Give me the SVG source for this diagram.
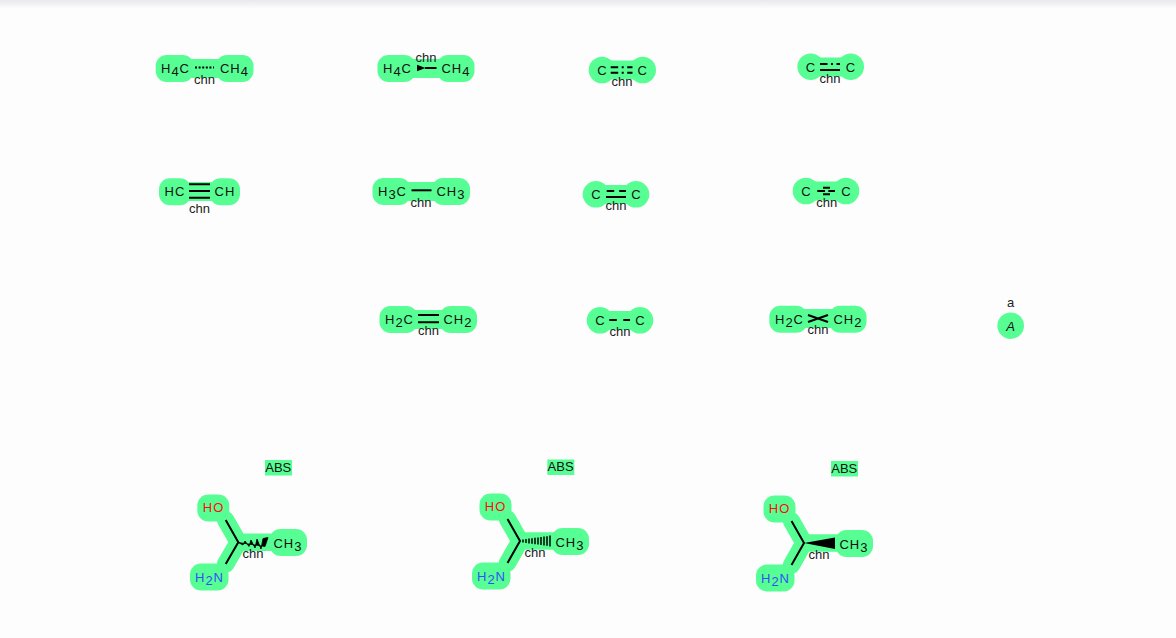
<svg xmlns="http://www.w3.org/2000/svg" width="1176" height="638" viewBox="0 0 1176 638">
<defs>
<linearGradient id="topShade" x1="0" y1="0" x2="0" y2="1"><stop offset="0" stop-color="#e8e8ee"/><stop offset="1" stop-color="#fdfdfd"/></linearGradient>
<marker id="arrowHead" markerUnits="userSpaceOnUse" markerWidth="10" markerHeight="8" refX="0.5" refY="4" orient="auto"><path d="M0,4 L8.5,0.8 L8.5,7.2 Z" fill="#000"/></marker>
</defs>
<style>
.n{fill:#57ff94}
.hl{stroke:#57ff94;fill:none;stroke-linecap:round;stroke-linejoin:round}
.b{stroke:#000;stroke-width:2;fill:none}
.t{font-family:"Liberation Sans",Arial,sans-serif;font-size:13px;letter-spacing:1px;text-anchor:middle;fill:#111}
.c{font-family:"Liberation Sans",Arial,sans-serif;font-size:13px;text-anchor:middle;fill:#222}
.s{baseline-shift:-3px}
</style>
<rect width="1176" height="638" fill="#fdfdfd"/>
<rect width="1176" height="9" fill="url(#topShade)"/>

<g id="diagram" opacity=".995">
<g id="connector-highlights">
<path class="hl" stroke-width="19" d="M190,68.500H220M412,68.500H440M610,70H635M818,67H843M186,191.500H214M407,191.500H436M604,194.500H628M814,191H838M414,319.500H444M608,320.500H632M804,318.500H834"/>
<path class="hl" stroke-width="17.500" d="M225.700,520L238.300,542.300L225.700,564M238.300,542.300H272"/>
<path class="hl" stroke-width="17.500" d="M507.500,519L520,541L507.500,563M520,541H554"/>
<path class="hl" stroke-width="17.500" d="M791.500,521L804,543L791.500,565M804,543H838"/>
</g>

<g id="n1a"><rect class="n" x="155.700" y="55" width="38" height="27" rx="11"/><text class="t" x="175.500" y="73">H<tspan class="s">4</tspan>C</text></g>
<g id="n1b"><rect class="n" x="216" y="55" width="37.500" height="27" rx="11"/><text class="t" x="234.500" y="73">CH<tspan class="s">4</tspan></text></g>
<g id="n2a"><rect class="n" x="377.500" y="55" width="38" height="27" rx="11"/><text class="t" x="397.500" y="73">H<tspan class="s">4</tspan>C</text></g>
<g id="n2b"><rect class="n" x="437" y="55" width="37.500" height="27" rx="11"/><text class="t" x="456" y="73">CH<tspan class="s">4</tspan></text></g>
<g id="n3a"><circle class="n" cx="602" cy="70" r="13.300"/><text class="t" x="602.500" y="75">C</text></g>
<g id="n3b"><circle class="n" cx="642.700" cy="70" r="13.300"/><text class="t" x="642.800" y="75">C</text></g>
<g id="n4a"><circle class="n" cx="810.700" cy="66.700" r="13.300"/><text class="t" x="811" y="72">C</text></g>
<g id="n4b"><circle class="n" cx="850.700" cy="66.700" r="13.300"/><text class="t" x="851" y="72">C</text></g>

<g id="n5a"><rect class="n" x="159" y="178.300" width="32" height="27" rx="11"/><text class="t" x="175" y="196">HC</text></g>
<g id="n5b"><rect class="n" x="209.500" y="178.300" width="30.500" height="27" rx="11"/><text class="t" x="225" y="196">CH</text></g>
<g id="n6a"><rect class="n" x="372.500" y="178" width="38" height="27" rx="11"/><text class="t" x="392.500" y="196">H<tspan class="s">3</tspan>C</text></g>
<g id="n6b"><rect class="n" x="432" y="178" width="38" height="27" rx="11"/><text class="t" x="451" y="196">CH<tspan class="s">3</tspan></text></g>
<g id="n7a"><circle class="n" cx="596" cy="194.300" r="13.300"/><text class="t" x="596.500" y="199">C</text></g>
<g id="n7b"><circle class="n" cx="636" cy="194.300" r="13.300"/><text class="t" x="636.500" y="199">C</text></g>
<g id="n8a"><circle class="n" cx="806" cy="191" r="13.300"/><text class="t" x="806.500" y="196">C</text></g>
<g id="n8b"><circle class="n" cx="846" cy="191" r="13.300"/><text class="t" x="846.500" y="196">C</text></g>

<g id="n9a"><rect class="n" x="379.500" y="306" width="38" height="27" rx="11"/><text class="t" x="399.500" y="324">H<tspan class="s">2</tspan>C</text></g>
<g id="n9b"><rect class="n" x="439.500" y="306" width="37.500" height="27" rx="11"/><text class="t" x="458" y="324">CH<tspan class="s">2</tspan></text></g>
<g id="n10a"><circle class="n" cx="600" cy="320.300" r="13.300"/><text class="t" x="600.500" y="325">C</text></g>
<g id="n10b"><circle class="n" cx="640" cy="320.300" r="13.300"/><text class="t" x="640.500" y="325">C</text></g>
<g id="n11a"><rect class="n" x="769.300" y="305.700" width="38" height="27" rx="11"/><text class="t" x="789.500" y="324">H<tspan class="s">2</tspan>C</text></g>
<g id="n11b"><rect class="n" x="829" y="305.700" width="37.500" height="27" rx="11"/><text class="t" x="848" y="324">CH<tspan class="s">2</tspan></text></g>
<g id="n12"><circle class="n" cx="1010.700" cy="325.700" r="13.300"/><text class="t" x="1011" y="330.500" font-style="italic">A</text></g>

<g id="m1-abs"><rect class="n" x="265" y="460" width="27" height="15.500"/><text class="c" style="fill:#111" x="278.300" y="472">ABS</text></g>
<g id="m1-ho"><rect class="n" x="197.300" y="494.500" width="32" height="27" rx="11"/><text class="t" style="fill:#ff0d0d" x="213.500" y="512">HO</text></g>
<g id="m1-n"><rect class="n" x="190" y="563.500" width="38.500" height="27" rx="11"/><text class="t" style="fill:#3050f8" x="209.500" y="582">H<tspan class="s">2</tspan>N</text></g>
<g id="m1-c"><rect class="n" x="269.500" y="529" width="37.500" height="27" rx="11"/><text class="t" x="288" y="548">CH<tspan class="s">3</tspan></text></g>

<g id="m2-abs"><rect class="n" x="547.300" y="459.500" width="27" height="15.500"/><text class="c" style="fill:#111" x="560.600" y="471">ABS</text></g>
<g id="m2-ho"><rect class="n" x="479.500" y="493.500" width="32" height="27" rx="11"/><text class="t" style="fill:#ff0d0d" x="495.500" y="511">HO</text></g>
<g id="m2-n"><rect class="n" x="472" y="562.500" width="38.500" height="27" rx="11"/><text class="t" style="fill:#3050f8" x="491.500" y="581">H<tspan class="s">2</tspan>N</text></g>
<g id="m2-c"><rect class="n" x="551.500" y="528" width="37.500" height="27" rx="11"/><text class="t" x="570" y="547">CH<tspan class="s">3</tspan></text></g>

<g id="m3-abs"><rect class="n" x="831" y="461" width="27" height="15.500"/><text class="c" style="fill:#111" x="844.300" y="473">ABS</text></g>
<g id="m3-ho"><rect class="n" x="763.500" y="495.500" width="32" height="27" rx="11"/><text class="t" style="fill:#ff0d0d" x="779.500" y="513">HO</text></g>
<g id="m3-n"><rect class="n" x="756" y="564.500" width="38.500" height="27" rx="11"/><text class="t" style="fill:#3050f8" x="775.500" y="583">H<tspan class="s">2</tspan>N</text></g>
<g id="m3-c"><rect class="n" x="835.500" y="530" width="37.500" height="27" rx="11"/><text class="t" x="854" y="549">CH<tspan class="s">3</tspan></text></g>

<g id="connectors">
<path class="b" stroke-dasharray="2 1.600" d="M195,67.500H214"/>
<path class="b" marker-end="url(#arrowHead)" d="M436.500,68H425"/>
<path class="b" stroke-dasharray="7.500 3.500 2 3.500 6" d="M610.700,67.300H632.500M610.700,72.700H632.500"/>
<path class="b" stroke-dasharray="7.500 3.500 2 3.500 6" d="M820,64H840"/>
<path class="b" d="M820,70H840"/>
<path class="b" d="M189,184.300H210M189,191H210M189,197.700H210"/>
<path class="b" d="M411.500,190.300H431.500"/>
<path class="b" stroke-dasharray="7.500 5" d="M606.700,191H626"/>
<path class="b" d="M606,197H626"/>
<path class="b" d="M817.300,191H825M828.300,191H835M823,187.700H830M823,194.300H830"/>
<path class="b" d="M418,315H439M418,322.300H439"/>
<path class="b" stroke-dasharray="7.500 6.500" d="M609.300,320H630"/>
<path class="b" d="M808,315L828,322M808,322L828,315"/>
<path class="b" d="M225.700,520L238.300,542.300L225.700,564"/>
<path d="M238.300,542.500L243,545L245,541L249,546.500L251,540L255,548L257,539L261,549L263,538.500L268,537.500L265,546.500Z" fill="#000" stroke="#000" stroke-width=".8"/>
<path class="b" d="M507.500,519L520,541L507.500,563"/>
<path stroke="#000" fill="none" d="M523,539.500V542.500M526,539V543M529,538.600V543.400M532,538.200V543.800M535,537.800V544.200M538,537.400V544.600M541,537V545M544,536.600V545.400M547,536.200V545.800M550,535.500V546.500" stroke-width="1.500"/>
<path class="b" d="M791.500,521L804,543L791.500,565"/>
<path d="M804,543L835,537.500V549Z" fill="#000"/>
</g>

<g id="connector-labels">
<text class="c" x="204.500" y="84">chn</text>
<text class="c" x="426" y="62">chn</text>
<text class="c" x="622" y="86">chn</text>
<text class="c" x="830" y="83">chn</text>
<text class="c" x="199.500" y="213">chn</text>
<text class="c" x="421" y="207">chn</text>
<text class="c" x="616" y="210">chn</text>
<text class="c" x="826.700" y="207">chn</text>
<text class="c" x="428.500" y="335">chn</text>
<text class="c" x="620" y="336">chn</text>
<text class="c" x="818" y="334">chn</text>
<text class="c" x="1010.700" y="307">a</text>
<text class="c" x="253" y="558">chn</text>
<text class="c" x="535" y="557">chn</text>
<text class="c" x="819" y="559">chn</text>
</g>
</g>
</svg>
